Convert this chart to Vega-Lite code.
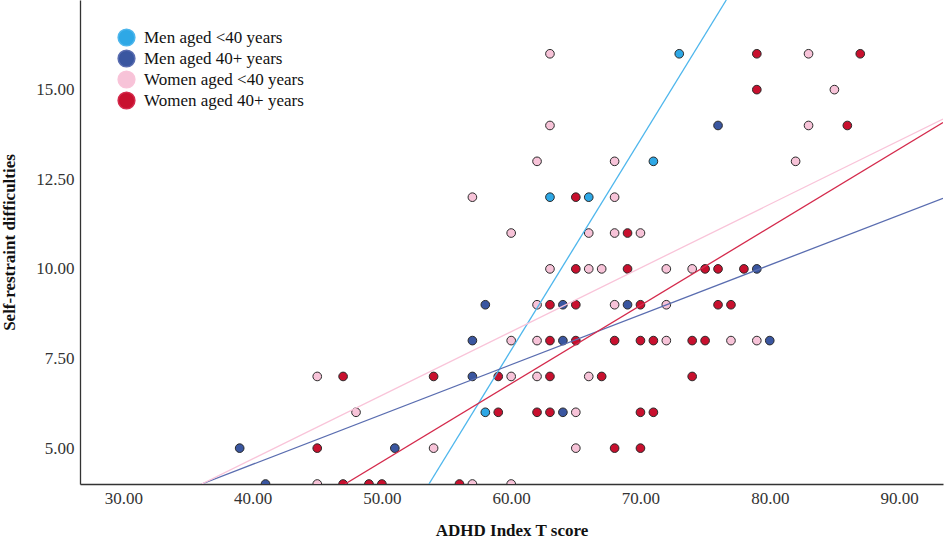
{
  "$schema": "https://vega.github.io/schema/vega-lite/v6.json",
  "description": "Self-restraint difficulties against ADHD Index T score, by sex and age group.",
  "autosize": "none",
  "padding": {"left": 80, "top": 0, "right": 1, "bottom": 58},
  "width": 863,
  "height": 484,
  "background": "white",
  "config": {
    "view": {"stroke": null},
    "font": "Liberation Serif",
    "axis": {
      "grid": false,
      "ticks": false,
      "domainColor": "#333333",
      "domainWidth": 1.3,
      "labelFont": "Liberation Serif",
      "labelFontSize": 17,
      "labelColor": "#333333",
      "titleFont": "Liberation Serif",
      "titleFontSize": 17,
      "titleFontWeight": "bold",
      "titleColor": "#111111"
    }
  },
  "datasets": {
    "points": [
      {"adhd": 73, "restraint": 16, "group": "Men aged <40 years"},
      {"adhd": 71, "restraint": 13, "group": "Men aged <40 years"},
      {"adhd": 63, "restraint": 12, "group": "Men aged <40 years"},
      {"adhd": 66, "restraint": 12, "group": "Men aged <40 years"},
      {"adhd": 58, "restraint": 6, "group": "Men aged <40 years"},

      {"adhd": 76, "restraint": 14, "group": "Men aged 40+ years"},
      {"adhd": 79, "restraint": 10, "group": "Men aged 40+ years"},
      {"adhd": 58, "restraint": 9, "group": "Men aged 40+ years"},
      {"adhd": 64, "restraint": 9, "group": "Men aged 40+ years"},
      {"adhd": 69, "restraint": 9, "group": "Men aged 40+ years"},
      {"adhd": 57, "restraint": 8, "group": "Men aged 40+ years"},
      {"adhd": 64, "restraint": 8, "group": "Men aged 40+ years"},
      {"adhd": 80, "restraint": 8, "group": "Men aged 40+ years"},
      {"adhd": 57, "restraint": 7, "group": "Men aged 40+ years"},
      {"adhd": 64, "restraint": 6, "group": "Men aged 40+ years"},
      {"adhd": 39, "restraint": 5, "group": "Men aged 40+ years"},
      {"adhd": 51, "restraint": 5, "group": "Men aged 40+ years"},
      {"adhd": 41, "restraint": 4, "group": "Men aged 40+ years"},

      {"adhd": 63, "restraint": 16, "group": "Women aged <40 years"},
      {"adhd": 83, "restraint": 16, "group": "Women aged <40 years"},
      {"adhd": 85, "restraint": 15, "group": "Women aged <40 years"},
      {"adhd": 63, "restraint": 14, "group": "Women aged <40 years"},
      {"adhd": 83, "restraint": 14, "group": "Women aged <40 years"},
      {"adhd": 62, "restraint": 13, "group": "Women aged <40 years"},
      {"adhd": 68, "restraint": 13, "group": "Women aged <40 years"},
      {"adhd": 82, "restraint": 13, "group": "Women aged <40 years"},
      {"adhd": 57, "restraint": 12, "group": "Women aged <40 years"},
      {"adhd": 68, "restraint": 12, "group": "Women aged <40 years"},
      {"adhd": 60, "restraint": 11, "group": "Women aged <40 years"},
      {"adhd": 66, "restraint": 11, "group": "Women aged <40 years"},
      {"adhd": 68, "restraint": 11, "group": "Women aged <40 years"},
      {"adhd": 70, "restraint": 11, "group": "Women aged <40 years"},
      {"adhd": 63, "restraint": 10, "group": "Women aged <40 years"},
      {"adhd": 66, "restraint": 10, "group": "Women aged <40 years"},
      {"adhd": 67, "restraint": 10, "group": "Women aged <40 years"},
      {"adhd": 72, "restraint": 10, "group": "Women aged <40 years"},
      {"adhd": 74, "restraint": 10, "group": "Women aged <40 years"},
      {"adhd": 62, "restraint": 9, "group": "Women aged <40 years"},
      {"adhd": 68, "restraint": 9, "group": "Women aged <40 years"},
      {"adhd": 72, "restraint": 9, "group": "Women aged <40 years"},
      {"adhd": 60, "restraint": 8, "group": "Women aged <40 years"},
      {"adhd": 62, "restraint": 8, "group": "Women aged <40 years"},
      {"adhd": 72, "restraint": 8, "group": "Women aged <40 years"},
      {"adhd": 77, "restraint": 8, "group": "Women aged <40 years"},
      {"adhd": 79, "restraint": 8, "group": "Women aged <40 years"},
      {"adhd": 45, "restraint": 7, "group": "Women aged <40 years"},
      {"adhd": 60, "restraint": 7, "group": "Women aged <40 years"},
      {"adhd": 62, "restraint": 7, "group": "Women aged <40 years"},
      {"adhd": 66, "restraint": 7, "group": "Women aged <40 years"},
      {"adhd": 48, "restraint": 6, "group": "Women aged <40 years"},
      {"adhd": 65, "restraint": 6, "group": "Women aged <40 years"},
      {"adhd": 54, "restraint": 5, "group": "Women aged <40 years"},
      {"adhd": 65, "restraint": 5, "group": "Women aged <40 years"},
      {"adhd": 45, "restraint": 4, "group": "Women aged <40 years"},
      {"adhd": 57, "restraint": 4, "group": "Women aged <40 years"},
      {"adhd": 60, "restraint": 4, "group": "Women aged <40 years"},

      {"adhd": 79, "restraint": 16, "group": "Women aged 40+ years"},
      {"adhd": 87, "restraint": 16, "group": "Women aged 40+ years"},
      {"adhd": 79, "restraint": 15, "group": "Women aged 40+ years"},
      {"adhd": 86, "restraint": 14, "group": "Women aged 40+ years"},
      {"adhd": 65, "restraint": 12, "group": "Women aged 40+ years"},
      {"adhd": 69, "restraint": 11, "group": "Women aged 40+ years"},
      {"adhd": 65, "restraint": 10, "group": "Women aged 40+ years"},
      {"adhd": 69, "restraint": 10, "group": "Women aged 40+ years"},
      {"adhd": 75, "restraint": 10, "group": "Women aged 40+ years"},
      {"adhd": 76, "restraint": 10, "group": "Women aged 40+ years"},
      {"adhd": 78, "restraint": 10, "group": "Women aged 40+ years"},
      {"adhd": 63, "restraint": 9, "group": "Women aged 40+ years"},
      {"adhd": 65, "restraint": 9, "group": "Women aged 40+ years"},
      {"adhd": 70, "restraint": 9, "group": "Women aged 40+ years"},
      {"adhd": 76, "restraint": 9, "group": "Women aged 40+ years"},
      {"adhd": 77, "restraint": 9, "group": "Women aged 40+ years"},
      {"adhd": 63, "restraint": 8, "group": "Women aged 40+ years"},
      {"adhd": 65, "restraint": 8, "group": "Women aged 40+ years"},
      {"adhd": 68, "restraint": 8, "group": "Women aged 40+ years"},
      {"adhd": 70, "restraint": 8, "group": "Women aged 40+ years"},
      {"adhd": 71, "restraint": 8, "group": "Women aged 40+ years"},
      {"adhd": 74, "restraint": 8, "group": "Women aged 40+ years"},
      {"adhd": 75, "restraint": 8, "group": "Women aged 40+ years"},
      {"adhd": 47, "restraint": 7, "group": "Women aged 40+ years"},
      {"adhd": 54, "restraint": 7, "group": "Women aged 40+ years"},
      {"adhd": 59, "restraint": 7, "group": "Women aged 40+ years"},
      {"adhd": 63, "restraint": 7, "group": "Women aged 40+ years"},
      {"adhd": 67, "restraint": 7, "group": "Women aged 40+ years"},
      {"adhd": 74, "restraint": 7, "group": "Women aged 40+ years"},
      {"adhd": 59, "restraint": 6, "group": "Women aged 40+ years"},
      {"adhd": 62, "restraint": 6, "group": "Women aged 40+ years"},
      {"adhd": 63, "restraint": 6, "group": "Women aged 40+ years"},
      {"adhd": 70, "restraint": 6, "group": "Women aged 40+ years"},
      {"adhd": 71, "restraint": 6, "group": "Women aged 40+ years"},
      {"adhd": 45, "restraint": 5, "group": "Women aged 40+ years"},
      {"adhd": 68, "restraint": 5, "group": "Women aged 40+ years"},
      {"adhd": 70, "restraint": 5, "group": "Women aged 40+ years"},
      {"adhd": 47, "restraint": 4, "group": "Women aged 40+ years"},
      {"adhd": 49, "restraint": 4, "group": "Women aged 40+ years"},
      {"adhd": 50, "restraint": 4, "group": "Women aged 40+ years"},
      {"adhd": 56, "restraint": 4, "group": "Women aged 40+ years"}
    ],
    "fits": [
      {"adhd": 53.64, "restraint": 4, "group": "Men aged <40 years"},
      {"adhd": 76.64, "restraint": 17.5, "group": "Men aged <40 years"},
      {"adhd": 36.06, "restraint": 4, "group": "Men aged 40+ years"},
      {"adhd": 93.4, "restraint": 11.97, "group": "Men aged 40+ years"},
      {"adhd": 36.06, "restraint": 4, "group": "Women aged <40 years"},
      {"adhd": 93.4, "restraint": 14.18, "group": "Women aged <40 years"},
      {"adhd": 47.15, "restraint": 4, "group": "Women aged 40+ years"},
      {"adhd": 93.4, "restraint": 14.08, "group": "Women aged 40+ years"}
    ]
  },
  "encoding": {
    "x": {
      "field": "adhd",
      "type": "quantitative",
      "title": "ADHD Index T score",
      "scale": {"domain": [26.65, 93.4], "nice": false, "zero": false},
      "axis": {"values": [30, 40, 50, 60, 70, 80, 90], "format": ".2f", "labelPadding": 6, "titlePadding": 16}
    },
    "y": {
      "field": "restraint",
      "type": "quantitative",
      "title": "Self-restraint difficulties",
      "scale": {"domain": [4, 17.5], "nice": false, "zero": false},
      "axis": {"values": [5, 7.5, 10, 12.5, 15], "format": ".2f", "labelPadding": 6, "titlePadding": 17}
    }
  },
  "layer": [
    {
      "data": {"name": "points"},
      "mark": {"type": "point", "shape": "circle", "filled": true, "opacity": 1, "size": 75, "stroke": "#2a2a2a", "strokeWidth": 1, "clip": true},
      "encoding": {
        "fill": {
          "field": "group",
          "type": "nominal",
          "scale": {
            "domain": ["Men aged <40 years", "Men aged 40+ years", "Women aged <40 years", "Women aged 40+ years"],
            "range": ["#2ea8e6", "#3a56a0", "#f7c3d8", "#c8102e"]
          },
          "legend": {
            "title": null,
            "orient": "none",
            "legendX": 37,
            "legendY": 28,
            "padding": 0,
            "symbolType": "circle",
            "symbolSize": 280,
            "symbolOpacity": 1,
            "rowPadding": -2,
            "labelOffset": 8,
            "labelFont": "Liberation Serif",
            "labelFontSize": 17,
            "labelColor": "#111111"
          }
        }
      }
    },
    {
      "data": {"name": "fits"},
      "mark": {"type": "line", "strokeWidth": 1.3, "clip": true},
      "encoding": {
        "stroke": {
          "field": "group",
          "type": "nominal",
          "scale": {
            "domain": ["Men aged <40 years", "Men aged 40+ years", "Women aged <40 years", "Women aged 40+ years"],
            "range": ["#4db6ec", "#5a6db0", "#f9c4d9", "#d42a4c"]
          },
          "legend": null
        }
      }
    }
  ]
}
